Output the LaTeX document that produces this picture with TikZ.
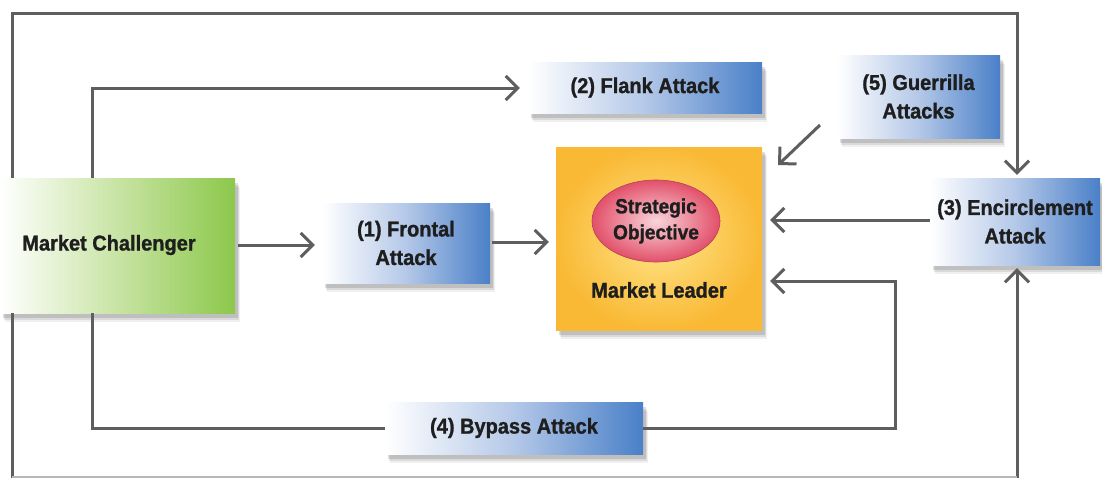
\documentclass[tikz,border=0pt]{standalone}
\usepackage{fontspec}
\setmainfont{Liberation Sans}
\newfontfamily\lblfont{Liberation Sans}[FakeStretch=0.93, BoldFeatures={FakeBold=1.2, FakeStretch=0.93}]
\usetikzlibrary{arrows.meta,shadows,shapes.geometric}
\definecolor{linegray}{HTML}{5E5E5E}
\definecolor{txt}{HTML}{1E1E1E}
\definecolor{blueR}{HTML}{4A80C8}
\definecolor{blueM}{HTML}{B4C8E8}
\definecolor{greenR}{HTML}{8CC84B}
\definecolor{greenM}{HTML}{C8E4A4}
\definecolor{orIn}{HTML}{FFE58A}
\definecolor{orOut}{HTML}{F9B935}
\definecolor{pkIn}{HTML}{F9D4DA}
\definecolor{pkOut}{HTML}{E2506A}
\tikzset{
  x=1pt, y=-1pt,
  lbl/.style={font=\lblfont\fontsize{21.5}{28.5}\selectfont\bfseries, text=txt, align=center},
  shade/.style={
    drop shadow={shadow xshift=5pt, shadow yshift=-9pt, opacity=0.06, fill=black},
    drop shadow={shadow xshift=4pt, shadow yshift=-7pt, opacity=0.09, fill=black},
    drop shadow={shadow xshift=3pt, shadow yshift=-5pt, opacity=0.12, fill=black}},
  bluebox/.style={lbl, inner sep=0pt, shade, left color=white, right color=blueR, middle color=blueM},
  greenbox/.style={lbl, inner sep=0pt, shade, left color=white, right color=greenR, middle color=greenM},
  orbox/.style={inner sep=0pt, shade, inner color=orIn, outer color=orOut},
  conn/.style={draw=linegray, line width=3pt},
  arr/.style={conn, -{Straight Barb[length=12pt,width=24pt]}},
}
\begin{document}
\begin{tikzpicture}
\useasboundingbox (0,0) rectangle (1102,477);
\fill[white] (0,0) rectangle (1102,477);
% nodes
\node[greenbox, minimum width=235pt, minimum height=135pt] (chal) at (117.5,245.5) {};
\node[lbl] (chalt) at (109,245) {Market Challenger};
\node[bluebox, minimum width=168pt, minimum height=80pt] (front) at (406,243) {(1) Frontal\\Attack};
\node[orbox, minimum width=206pt, minimum height=183pt] (lead) at (659,238.5) {};
\node[ellipse, inner sep=0pt, minimum width=128pt, minimum height=82pt, inner color=pkIn, outer color=pkOut, draw=pkOut!80!black, line width=0.6pt, lbl, font=\lblfont\fontsize{20.5}{26}\selectfont\bfseries] (obj) at (656,221) {Strategic\\Objective};
\node[lbl] (leadt) at (659,290) {Market Leader};
\node[bluebox, minimum width=234pt, minimum height=51pt] (flank) at (645,87.5) {(2) Flank Attack};
\node[bluebox, minimum width=163pt, minimum height=83pt] (guer) at (918.5,96.5) {(5) Guerrilla\\Attacks};
\node[bluebox, minimum width=170pt, minimum height=87pt] (enc) at (1015,221.5) {(3) Encirclement\\Attack};
\node[bluebox, minimum width=258pt, minimum height=52pt] (byp) at (514,428) {(4) Bypass Attack};
% coordinates
\coordinate (gA) at (820,125);
\coordinate (gB) at (778,165);
% connectors
\draw[arr] (chal.north -| 12,0) -- (12,13) -- (1017,13) -- ([yshift=3pt]enc.north -| 1017,0);
\draw[arr] (chal.south -| 12,0) -- (12,478) -- (1017,478) -- ([yshift=-3pt]enc.south -| 1017,0);
\draw[draw=linegray!45, line width=2pt] (12,477) -- (1017,477);
\draw[arr] (chal.north -| 92,0) -- (92,88) -- ([xshift=-8pt]flank.west |- 0,88);
\draw[conn] (chal.south -| 92,0) -- (92,428) -- (byp.west);
\draw[arr] (byp.east) -- (895,428) -- (895,281) -- ([xshift=8pt]lead.east |- 0,281);
\draw[arr] (enc.west |- 0,220) -- ([xshift=8pt]lead.east |- 0,220);
\draw[arr] (gA) -- (gB);
\draw[arr] (chal.east |- 0,245) ++(3,0) -- ([xshift=-7pt]front.west |- 0,245);
\draw[arr] (front.east |- 0,242) ++(2,0) -- ([xshift=-7pt]lead.west |- 0,242);
\end{tikzpicture}
\end{document}
